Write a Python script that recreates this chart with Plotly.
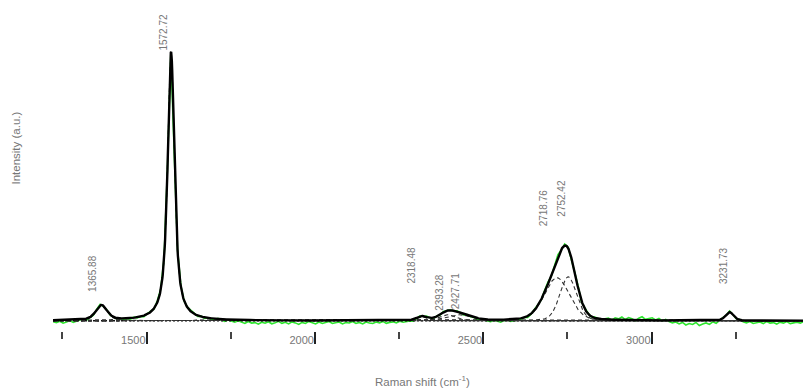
import numpy as np
import plotly.graph_objects as go

# ---------------- data ----------------
# fitted peak parameters (center cm-1, height a.u., FWHM cm-1, Lorentzian fraction)
peak_centers = [1365.88, 1572.72, 2318.48, 2393.28, 2427.71, 2718.76, 2752.42, 3231.73]
peak_heights = [150, 2690, 40, 60, 60, 430, 440, 85]
peak_fwhm = [40, 24, 35, 55, 85, 88, 58, 28]
peak_lorentz = [0.5, 0.85, 0.3, 0.3, 0.3, 0.2, 0.2, 0.3]
peak_labels = ["1365.88", "1572.72", "2318.48", "2393.28", "2427.71", "2718.76", "2752.42", "3231.73"]
label_heights = [277, 2687, 357, 87, 107, 937, 1027, 357]

# raw spectrum: residual from fit, every 10 cm-1 starting at 1222 cm-1
raw_start = 1222
raw_step = 10
raw_residual = [
    -15, -25, -10, -30, -20, -5, -25, -15,
    -10, 5, -15, 0, -10,
    5, 10, -5, 8, -5, 0,
    -10, 0, -15, -5, -10, 5, -8, 0, -12,
    5, 10, -5, 15, 10, 0,
    20, -10, 15, 0,
    10, -5, 5, 12, 0, -8,
    5, -10, 0, -5, -15, 5, -10, -20, -5, -15, -25, -10,
    -20, -35, -15, -30, -25, -40, -20, -30, -15, -35,
    -25, -10, -30, -20, -35, -15, -25, -40, -20, -30,
    -10, -25, -35, -15, -30, -20, -10, -30, -25, -15,
    -35, -20, -25, -10, -30, -20, -35, -15, -25, -30,
    -15, -25, -10, -30, -20, -15, -25, -10, -20, -15,
    -10, -20, -5,
    5, -5, 10, 0, -10, 5, -5, 10, 0, 5, -5, 8, 0, -10, 5, -5, 0, -15, -5, -10,
    -10, -20, -5, -15, -25, -10, -5, -20, -15, -5, -10, 0, -15, -5, 5,
    10, -5, 15, 20, -10, 10, 25, -5, 15, 10, -10, 5, 20, -15, 10, 5, -5, 10, 0, -5,
    5, 15, -5, 20, 10, 30, 5, 25, 15, -5, 20, 35, 10, 15, 25, 5, 20, -5, 10,
    -10, -25, -15, -35, -20, -45, -30, -40, -20, -50, -35, -25, -40, -15, -30, -10,
    5, -5, 10, 0, -5, 5,
    -15, -25, -10, -30, -20, -15, -30, -10, -25, -20, -35, -15, -25, -10, -30, -20, -15, -25, -10,
]

x_range = [1222, 3450]
major_tick_vals = [1500, 2000, 2500, 3000]
major_tick_text = ["1500", "2000", "2500", "3000"]
minor_tick_start = 1250
minor_tick_step = 250

# ---------------- model ----------------
def pseudo_voigt(x, c, h, w, eta):
    d = (x - c) / w
    g = np.exp(-4 * np.log(2) * d ** 2)
    lor = 1.0 / (1.0 + 4 * d ** 2)
    return h * (eta * lor + (1 - eta) * g)


xf = np.arange(x_range[0], x_range[1] + 0.5, 1.0)
components = [pseudo_voigt(xf, c, h, w, e)
              for c, h, w, e in zip(peak_centers, peak_heights, peak_fwhm, peak_lorentz)]
fit = np.sum(components, axis=0)

xr = raw_start + raw_step * np.arange(len(raw_residual))
fit_r = np.sum([pseudo_voigt(xr, c, h, w, e)
                for c, h, w, e in zip(peak_centers, peak_heights, peak_fwhm, peak_lorentz)], axis=0)
raw = fit_r + np.array(raw_residual)

# ---------------- figure ----------------
fig = go.Figure()
fig.add_trace(go.Scatter(x=xr, y=raw, mode="lines",
                         line=dict(color="#2ee62e", width=1.6), hoverinfo="skip"))
fig.add_trace(go.Scatter(x=[x_range[0], x_range[1]], y=[0, 0], mode="lines",
                         line=dict(color="#111111", width=1.5, dash="2px,2px"), hoverinfo="skip"))
for comp in components:
    fig.add_trace(go.Scatter(x=xf, y=comp, mode="lines",
                             line=dict(color="#333333", width=1.1, dash="4px,3px"), hoverinfo="skip"))
fig.add_trace(go.Scatter(x=xf, y=fit, mode="lines",
                         line=dict(color="#000000", width=2.4), hoverinfo="skip"))

label_shift = [-9, -8, -11, -8, -3, -13, -7, -6]
for c, lab, ly, sh in zip(peak_centers, peak_labels, label_heights, label_shift):
    fig.add_annotation(x=c, y=ly, text=lab, textangle=-90, showarrow=False,
                       xanchor="center", yanchor="bottom", xshift=sh,
                       font=dict(size=10, color="#777777"), borderpad=0)

fig.add_annotation(xref="paper", yref="paper", x=0, y=0.5685, xshift=-37,
                   text="Intensity (a.u.)", textangle=-90, showarrow=False,
                   xanchor="center", yanchor="middle",
                   font=dict(size=11.5, color="#777777"))
fig.add_annotation(xref="paper", yref="paper", x=0.4927, y=0, yshift=-50,
                   text="Raman shift (cm<sup>-1</sup>)", showarrow=False,
                   xanchor="center", yanchor="middle",
                   font=dict(size=11.5, color="#777777"))

fig.update_layout(
    width=807, height=392,
    margin=dict(l=53, r=4, t=10, b=61),
    paper_bgcolor="white", plot_bgcolor="white",
    showlegend=False,
    font=dict(family="Liberation Sans, Arial, sans-serif"),
    xaxis=dict(range=x_range, showgrid=False, zeroline=False, showline=False,
               tickvals=major_tick_vals, ticktext=major_tick_text,
               ticks="outside", ticklen=12, tickwidth=2, tickcolor="#222222",
               ticklabelposition="outside left", ticklabelstandoff=-1,
               tickfont=dict(size=11, color="#777777"),
               minor=dict(ticks="outside", ticklen=7, tickwidth=1.5, tickcolor="#444444",
                          tick0=minor_tick_start, dtick=minor_tick_step)),
    yaxis=dict(range=[-103, 3107], visible=False, showgrid=False, zeroline=False),
)

fig.write_html("out.html", config={"displayModeBar": False},
               post_script="document.body.style.margin='0px';")
